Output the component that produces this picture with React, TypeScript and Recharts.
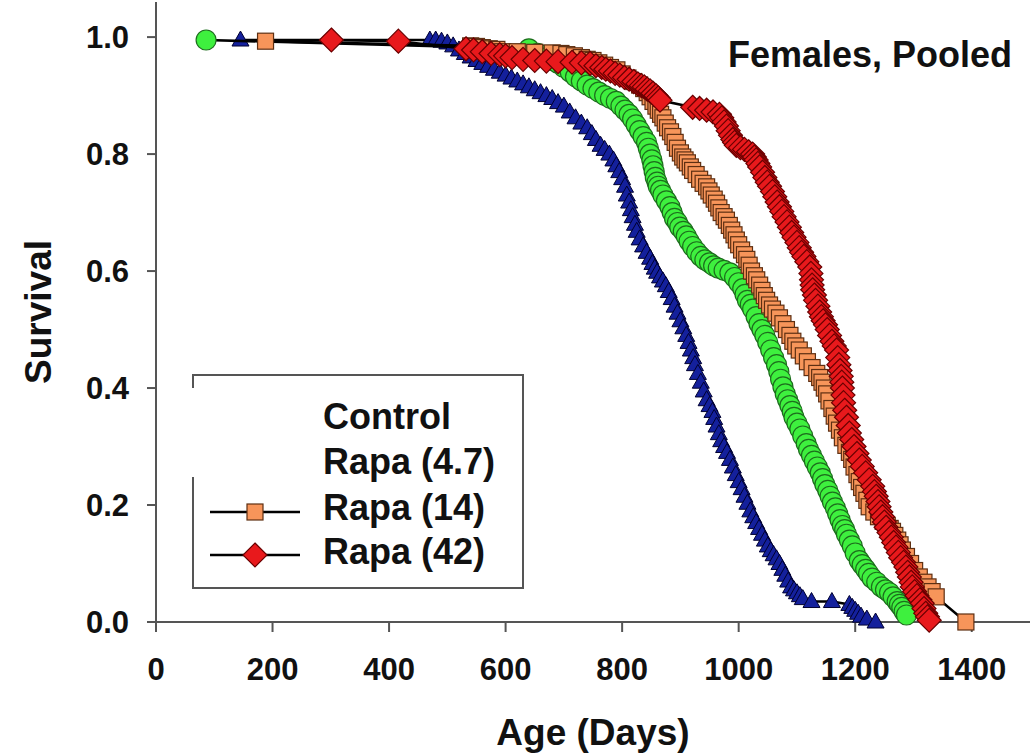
import { ScatterChart, Scatter, XAxis, YAxis, Legend } from "recharts";

// ages (days) and survival fraction
const controlAge = [145, 470, 480, 490, 500, 510, 520, 530, 540, 550, 560, 570, 580, 590, 600, 610, 620, 630, 640, 650, 660, 670, 680, 690, 700, 710, 720, 730, 740, 748, 755, 763, 770, 778, 785, 790, 795, 800, 805, 808, 812, 815, 818, 822, 825, 830, 836, 842, 848, 852, 856, 860, 865, 870, 875, 880, 885, 890, 895, 900, 905, 910, 914, 918, 922, 925, 930, 935, 940, 945, 950, 955, 958, 962, 966, 970, 975, 980, 985, 990, 995, 1000, 1005, 1010, 1015, 1020, 1025, 1030, 1035, 1040, 1045, 1050, 1055, 1060, 1065, 1070, 1075, 1080, 1085, 1090, 1095, 1100, 1105, 1110, 1125, 1160, 1190, 1195, 1200, 1205, 1210, 1220, 1235];
const controlSurv = [0.995, 0.995, 0.995, 0.993, 0.99, 0.985, 0.978, 0.972, 0.966, 0.96, 0.955, 0.95, 0.945, 0.94, 0.935, 0.93, 0.925, 0.92, 0.915, 0.91, 0.905, 0.9, 0.895, 0.888, 0.882, 0.872, 0.862, 0.853, 0.845, 0.835, 0.825, 0.815, 0.808, 0.8, 0.79, 0.78, 0.77, 0.758, 0.745, 0.73, 0.718, 0.705, 0.693, 0.68, 0.668, 0.655, 0.643, 0.632, 0.622, 0.613, 0.605, 0.598, 0.59, 0.583, 0.575, 0.565, 0.553, 0.54, 0.528, 0.515, 0.503, 0.49, 0.478, 0.465, 0.452, 0.44, 0.425, 0.41, 0.395, 0.38, 0.37, 0.36, 0.348, 0.335, 0.322, 0.31, 0.3, 0.29, 0.278, 0.265, 0.252, 0.24, 0.228, 0.215, 0.203, 0.19, 0.18, 0.17, 0.16, 0.15, 0.14, 0.13, 0.122, 0.115, 0.108, 0.1, 0.09, 0.08, 0.07, 0.06, 0.055, 0.05, 0.045, 0.04, 0.035, 0.035, 0.03, 0.025, 0.02, 0.015, 0.01, 0.005, 0.0];

const rapa47Age = [86, 640, 655, 670, 680, 690, 700, 711, 720, 730, 740, 750, 760, 770, 780, 790, 798, 805, 812, 818, 824, 830, 836, 842, 845, 848, 851, 853, 855, 857, 860, 862, 866, 870, 876, 882, 886, 890, 895, 899, 905, 910, 915, 921, 928, 935, 942, 950, 957, 965, 975, 985, 993, 1000, 1007, 1011, 1015, 1020, 1024, 1030, 1035, 1040, 1045, 1050, 1055, 1060, 1065, 1069, 1072, 1076, 1080, 1084, 1088, 1092, 1095, 1100, 1105, 1110, 1116, 1120, 1125, 1130, 1135, 1140, 1144, 1148, 1153, 1157, 1161, 1166, 1170, 1174, 1178, 1182, 1185, 1190, 1195, 1200, 1207, 1212, 1218, 1223, 1229, 1237, 1245, 1252, 1259, 1265, 1272, 1276, 1280, 1284, 1288];
const rapa47Surv = [0.995, 0.98, 0.972, 0.965, 0.96, 0.955, 0.948, 0.94, 0.932, 0.925, 0.918, 0.912, 0.906, 0.9, 0.895, 0.89, 0.882, 0.875, 0.868, 0.86, 0.85, 0.84, 0.83, 0.82, 0.81, 0.8, 0.79, 0.78, 0.77, 0.76, 0.752, 0.745, 0.738, 0.73, 0.72, 0.71, 0.7, 0.69, 0.683, 0.675, 0.668, 0.66, 0.651, 0.642, 0.633, 0.625, 0.619, 0.614, 0.609, 0.605, 0.601, 0.597, 0.589, 0.58, 0.57, 0.56, 0.55, 0.543, 0.535, 0.522, 0.51, 0.5, 0.49, 0.478, 0.465, 0.452, 0.44, 0.428, 0.415, 0.402, 0.39, 0.38, 0.37, 0.36, 0.35, 0.34, 0.33, 0.318, 0.305, 0.295, 0.285, 0.275, 0.265, 0.255, 0.245, 0.235, 0.225, 0.215, 0.205, 0.195, 0.185, 0.175, 0.165, 0.158, 0.15, 0.14, 0.13, 0.118, 0.105, 0.098, 0.09, 0.083, 0.075, 0.068, 0.06, 0.055, 0.05, 0.043, 0.035, 0.03, 0.025, 0.018, 0.012];

const rapa14Age = [188, 540, 550, 560, 572, 585, 595, 620, 650, 680, 695, 705, 718, 730, 740, 750, 760, 770, 780, 791, 800, 810, 820, 830, 837, 843, 848, 853, 858, 862, 866, 870, 874, 878, 883, 887, 891, 895, 900, 904, 908, 912, 917, 921, 927, 933, 939, 945, 949, 953, 958, 962, 966, 970, 975, 979, 984, 988, 992, 996, 1000, 1005, 1010, 1014, 1018, 1022, 1027, 1031, 1036, 1040, 1044, 1048, 1053, 1058, 1064, 1070, 1076, 1082, 1088, 1093, 1098, 1104, 1111, 1118, 1126, 1134, 1139, 1143, 1147, 1151, 1155, 1160, 1164, 1168, 1173, 1178, 1184, 1190, 1194, 1198, 1203, 1207, 1211, 1215, 1220, 1224, 1232, 1240, 1248, 1255, 1260, 1264, 1268, 1273, 1277, 1281, 1288, 1295, 1302, 1310, 1318, 1325, 1332, 1339, 1390];
const rapa14Surv = [0.993, 0.985, 0.984, 0.982, 0.98, 0.979, 0.975, 0.975, 0.974, 0.973, 0.972, 0.97, 0.968, 0.965, 0.962, 0.96, 0.956, 0.952, 0.948, 0.944, 0.937, 0.93, 0.924, 0.918, 0.912, 0.905, 0.898, 0.89, 0.882, 0.875, 0.868, 0.862, 0.853, 0.845, 0.838, 0.83, 0.82, 0.81, 0.802, 0.795, 0.79, 0.785, 0.778, 0.772, 0.765, 0.757, 0.75, 0.744, 0.737, 0.73, 0.723, 0.716, 0.708, 0.7, 0.693, 0.687, 0.678, 0.67, 0.662, 0.653, 0.645, 0.636, 0.628, 0.62, 0.61, 0.6, 0.592, 0.585, 0.576, 0.567, 0.558, 0.55, 0.542, 0.535, 0.528, 0.52, 0.51, 0.5, 0.49, 0.48, 0.472, 0.465, 0.455, 0.445, 0.435, 0.425, 0.418, 0.41, 0.4, 0.39, 0.378, 0.365, 0.352, 0.34, 0.328, 0.315, 0.302, 0.29, 0.278, 0.265, 0.252, 0.24, 0.23, 0.22, 0.208, 0.197, 0.188, 0.18, 0.172, 0.165, 0.16, 0.155, 0.148, 0.14, 0.132, 0.123, 0.112, 0.1, 0.088, 0.077, 0.068, 0.06, 0.052, 0.043, 0.0];

const rapa42Age = [301, 416, 532, 545, 560, 575, 590, 600, 611, 630, 650, 670, 690, 714, 730, 745, 755, 765, 772, 780, 788, 796, 804, 812, 820, 827, 833, 838, 843, 848, 853, 858, 862, 865, 921, 933, 945, 956, 967, 971, 975, 979, 982, 986, 990, 993, 996, 1003, 1010, 1017, 1024, 1027, 1030, 1033, 1036, 1041, 1045, 1049, 1053, 1058, 1062, 1066, 1070, 1074, 1078, 1083, 1087, 1091, 1095, 1100, 1104, 1108, 1112, 1117, 1122, 1124, 1125, 1126, 1127, 1130, 1132, 1136, 1139, 1142, 1145, 1149, 1152, 1156, 1160, 1164, 1168, 1170, 1172, 1174, 1176, 1177, 1178, 1179, 1180, 1182, 1185, 1188, 1190, 1194, 1198, 1203, 1207, 1212, 1218, 1224, 1230, 1233, 1236, 1239, 1241, 1244, 1247, 1250, 1253, 1258, 1262, 1266, 1270, 1274, 1278, 1283, 1287, 1290, 1293, 1296, 1298, 1302, 1306, 1311, 1315, 1318, 1321, 1324, 1327];
const rapa42Surv = [0.995, 0.993, 0.98, 0.978, 0.975, 0.972, 0.97, 0.968, 0.965, 0.962, 0.96, 0.959, 0.958, 0.957, 0.956, 0.955, 0.951, 0.948, 0.945, 0.942, 0.938, 0.935, 0.931, 0.928, 0.924, 0.92, 0.917, 0.915, 0.911, 0.908, 0.904, 0.9, 0.896, 0.892, 0.88, 0.878, 0.875, 0.872, 0.868, 0.862, 0.855, 0.848, 0.84, 0.832, 0.825, 0.82, 0.815, 0.811, 0.808, 0.804, 0.8, 0.795, 0.79, 0.784, 0.778, 0.769, 0.76, 0.752, 0.745, 0.736, 0.727, 0.718, 0.71, 0.702, 0.693, 0.684, 0.675, 0.666, 0.658, 0.649, 0.64, 0.632, 0.625, 0.616, 0.607, 0.596, 0.585, 0.576, 0.568, 0.559, 0.55, 0.54, 0.53, 0.522, 0.515, 0.508, 0.5, 0.49, 0.48, 0.472, 0.465, 0.452, 0.44, 0.43, 0.42, 0.41, 0.4, 0.388, 0.375, 0.362, 0.35, 0.336, 0.323, 0.312, 0.3, 0.288, 0.277, 0.266, 0.255, 0.243, 0.232, 0.223, 0.215, 0.206, 0.197, 0.188, 0.18, 0.171, 0.162, 0.153, 0.145, 0.136, 0.128, 0.119, 0.11, 0.102, 0.094, 0.085, 0.077, 0.068, 0.06, 0.052, 0.045, 0.038, 0.032, 0.023, 0.015, 0.009, 0.003];

const xTicks = [0, 200, 400, 600, 800, 1000, 1200, 1400];
const yTicks = [0, 0.2, 0.4, 0.6, 0.8, 1.0];
const legendNames = ["Control", "Rapa (4.7)", "Rapa (14)", "Rapa (42)"];

const toPoints = (ages: number[], surv: number[]) =>
  ages.map((a, i) => ({ age: a, surv: surv[i] }));

const FONT = "'Liberation Sans', Arial, sans-serif";
const AXIS = "#555";

const Triangle = ({ cx, cy }: any) => (
  <polygon
    points={`${cx},${cy - 9} ${cx - 8.5},${cy + 6} ${cx + 8.5},${cy + 6}`}
    fill="#14209c"
    stroke="#000030"
    strokeWidth={1}
  />
);
const Circle = ({ cx, cy }: any) => (
  <circle cx={cx} cy={cy} r={10} fill="#3ef03e" stroke="#1d6e1d" strokeWidth={1.2} />
);
const Square = ({ cx, cy }: any) => (
  <rect x={cx - 8} y={cy - 8} width={16} height={16} fill="#f7955a" stroke="#5e2f12" strokeWidth={1.2} />
);
const Diamond = ({ cx, cy }: any) => (
  <polygon
    points={`${cx},${cy - 12} ${cx + 12},${cy} ${cx},${cy + 12} ${cx - 12},${cy}`}
    fill="#e8191c"
    stroke="#6a0000"
    strokeWidth={1.2}
  />
);

const lineStyle = { stroke: "#000", strokeWidth: 2.5 };

const titleStyle = { fontFamily: FONT, fontWeight: "bold" as const, fontSize: 37, fill: "#111" };

const SurvivalLabel = ({ viewBox }: any) => {
  const x = viewBox.x - 5;
  const y = viewBox.y + viewBox.height / 2;
  return (
    <text x={x} y={y} transform={`rotate(-90 ${x} ${y})`} textAnchor="middle" {...titleStyle}>
      Survival
    </text>
  );
};

const AgeLabel = ({ viewBox }: any) => (
  <text x={viewBox.x + viewBox.width / 2} y={viewBox.y + 123} textAnchor="middle" {...titleStyle}>
    Age (Days)
  </text>
);

function LegendBox() {
  const tx = 143;
  const ys = [59, 104, 150, 194];
  return (
    <svg width={360} height={230} style={{ display: "block" }}>
      <rect x={13} y={5} width={330} height={213} fill="#fff" stroke={AXIS} strokeWidth={2} />
      {/* symbols for the first two entries are blanked out in the original */}
      <rect x={0} y={18} width={120} height={89} fill="#fff" />
      <line x1={30} y1={142} x2={120} y2={142} stroke="#000" strokeWidth={2.5} />
      <Square cx={75} cy={142} />
      <line x1={30} y1={185} x2={120} y2={185} stroke="#000" strokeWidth={2.5} />
      <Diamond cx={75} cy={185} />
      {legendNames.map((n, i) => (
        <text key={n} x={tx} y={ys[i]} fontFamily={FONT} fontWeight="bold" fontSize={36} fill="#111">
          {n}
        </text>
      ))}
    </svg>
  );
}

export default function App() {
  return (
    <div style={{ position: "absolute", left: 0, top: 0, width: 1030, height: 756, background: "#fff" }}>
      <ScatterChart width={1030} height={756} margin={{ top: 2, right: 0, bottom: 34, left: 56 }}>
        <XAxis
          type="number"
          dataKey="age"
          domain={[0, 1500]}
          ticks={xTicks}
          height={100}
          tickSize={10}
          tickMargin={26}
          stroke={AXIS}
          strokeWidth={2}
          tick={{ fontFamily: FONT, fontWeight: "bold", fontSize: 31, fill: "#111" }}
          label={<AgeLabel />}
        />
        <YAxis
          type="number"
          dataKey="surv"
          domain={[0, 1.06]}
          ticks={yTicks}
          width={100}
          tickSize={9}
          tickMargin={18}
          stroke={AXIS}
          strokeWidth={2}
          tickFormatter={(v: number) => v.toFixed(1)}
          tick={{ fontFamily: FONT, fontWeight: "bold", fontSize: 31, fill: "#111" }}
          label={<SurvivalLabel />}
        />
        <Scatter name="Control" data={toPoints(controlAge, controlSurv)} line={lineStyle} lineType="joint" shape={Triangle} isAnimationActive={false} />
        <Scatter name="Rapa (4.7)" data={toPoints(rapa47Age, rapa47Surv)} line={lineStyle} lineType="joint" shape={Circle} isAnimationActive={false} />
        <Scatter name="Rapa (14)" data={toPoints(rapa14Age, rapa14Surv)} line={lineStyle} lineType="joint" shape={Square} isAnimationActive={false} />
        <Scatter name="Rapa (42)" data={toPoints(rapa42Age, rapa42Surv)} line={lineStyle} lineType="joint" shape={Diamond} isAnimationActive={false} />
        <Legend
          layout="vertical"
          align="center"
          verticalAlign="middle"
          content={() => <LegendBox />}
          wrapperStyle={{ left: 180, top: 370, width: 360, height: 230 }}
        />
        <text x={1012} y={67} textAnchor="end" fontFamily={FONT} fontWeight="bold" fontSize={36} fill="#111">
          Females, Pooled
        </text>
      </ScatterChart>
    </div>
  );
}
